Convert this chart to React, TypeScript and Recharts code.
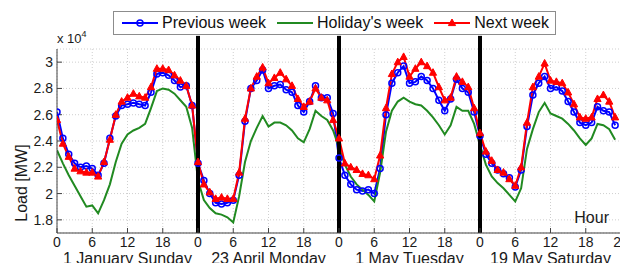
import React from 'react';
import { LineChart, Line, XAxis, YAxis, CartesianGrid, ReferenceLine, Legend } from 'recharts';

const FONT = '"Liberation Sans", Arial, Helvetica, sans-serif';
const BLUE = '#0000ff';
const GREEN = '#218a21';
const RED = '#ff0000';

const dayNames = ['1 January Sunday', '23 April Monday', '1 May Tuesday', '19 May Saturday'];
const hourTicks = [0, 6, 12, 18, 24, 30, 36, 42, 48, 54, 60, 66, 72, 78, 84, 90, 96];
const dayCentres = [12, 36, 60, 84];
const dayBounds = [24, 48, 72];
const loadTicks = [1.8, 2, 2.2, 2.4, 2.6, 2.8, 3];

// load in 10^4 MW, hourly, four days back to back
const previousWeek = [
  2.62, 2.42, 2.30, 2.23, 2.20, 2.21, 2.19, 2.14, 2.23, 2.42, 2.59, 2.67, 2.68, 2.69, 2.68, 2.67, 2.77, 2.91, 2.92, 2.90, 2.86, 2.81, 2.82, 2.67,
  2.23, 2.10, 2.00, 1.93, 1.92, 1.93, 1.95, 2.14, 2.55, 2.80, 2.86, 2.94, 2.80, 2.82, 2.83, 2.79, 2.77, 2.67, 2.62, 2.70, 2.82, 2.73, 2.73, 2.61,
  2.27, 2.14, 2.07, 2.03, 2.02, 2.03, 2.00, 2.19, 2.60, 2.84, 2.92, 2.97, 2.84, 2.85, 2.89, 2.86, 2.80, 2.71, 2.63, 2.72, 2.87, 2.80, 2.77, 2.62,
  2.44, 2.30, 2.23, 2.18, 2.15, 2.12, 2.05, 2.18, 2.51, 2.75, 2.84, 2.89, 2.80, 2.81, 2.78, 2.70, 2.62, 2.54, 2.52, 2.54, 2.66, 2.63, 2.62, 2.52,
];

const holidayWeek = [
  2.33, 2.23, 2.14, 2.06, 1.98, 1.90, 1.91, 1.85, 1.95, 2.07, 2.24, 2.38, 2.45, 2.48, 2.50, 2.53, 2.65, 2.78, 2.80, 2.79, 2.76, 2.71, 2.66, 2.50,
  2.10, 1.95, 1.89, 1.85, 1.84, 1.82, 1.78, 1.98, 2.24, 2.40, 2.50, 2.59, 2.51, 2.54, 2.54, 2.52, 2.48, 2.42, 2.39, 2.49, 2.63, 2.59, 2.56, 2.48,
  2.35, 2.22, 2.13, 2.07, 2.03, 1.99, 1.94, 2.16, 2.47, 2.63, 2.70, 2.73, 2.70, 2.68, 2.67, 2.63, 2.58, 2.52, 2.45, 2.52, 2.66, 2.63, 2.63, 2.53,
  2.37, 2.22, 2.13, 2.08, 2.04, 1.99, 1.94, 2.04, 2.34, 2.49, 2.62, 2.69, 2.61, 2.59, 2.57, 2.53, 2.48, 2.42, 2.37, 2.42, 2.53, 2.52, 2.49, 2.41,
];

const nextWeek = [
  2.56, 2.38, 2.28, 2.19, 2.17, 2.16, 2.16, 2.13, 2.24, 2.41, 2.60, 2.70, 2.73, 2.76, 2.74, 2.73, 2.81, 2.95, 2.95, 2.94, 2.90, 2.86, 2.82, 2.67,
  2.24, 2.07, 2.01, 1.96, 1.97, 1.96, 1.96, 2.16, 2.57, 2.80, 2.89, 2.96, 2.84, 2.88, 2.92, 2.87, 2.82, 2.72, 2.66, 2.70, 2.80, 2.73, 2.71, 2.56,
  2.42, 2.23, 2.20, 2.18, 2.15, 2.14, 2.11, 2.29, 2.65, 2.91, 3.00, 3.04, 2.89, 2.95, 3.00, 2.97, 2.92, 2.81, 2.71, 2.73, 2.89, 2.85, 2.81, 2.65,
  2.46, 2.32, 2.25, 2.18, 2.16, 2.11, 2.06, 2.20, 2.54, 2.81, 2.89, 2.99, 2.86, 2.85, 2.84, 2.77, 2.68, 2.58, 2.57, 2.58, 2.72, 2.75, 2.70, 2.58,
];

const data = previousWeek.map((v, i) => ({
  hour: i,
  previous: v,
  holiday: holidayWeek[i],
  next: nextWeek[i],
}));

const legendItems = [
  { name: 'Previous week', color: BLUE, marker: 'circle' },
  { name: "Holiday's week", color: GREEN, marker: 'none' },
  { name: 'Next week', color: RED, marker: 'triangle' },
];

const TriangleDot = (props: any) => {
  const { cx, cy } = props;
  if (cx == null || cy == null) return null;
  return (
    <polygon
      points={`${cx},${cy - 4} ${cx - 3.6},${cy + 2.6} ${cx + 3.6},${cy + 2.6}`}
      fill={RED}
      stroke={RED}
      strokeWidth={1}
    />
  );
};

const LegendBox = () => (
  <div
    style={{
      display: 'flex',
      alignItems: 'center',
      height: 22,
      padding: '0 6px 0 8px',
      border: '1px solid #8c8c8c',
      background: '#fff',
      fontFamily: FONT,
      fontSize: 16,
      color: '#111',
      whiteSpace: 'nowrap',
      gap: 11,
    }}
  >
    {legendItems.map((item) => (
      <div key={item.name} style={{ display: 'flex', alignItems: 'center' }}>
        <svg width={36} height={14} style={{ marginRight: 4 }}>
          <line x1={0} y1={7} x2={36} y2={7} stroke={item.color} strokeWidth={2} />
          {item.marker === 'circle' && (
            <circle cx={18} cy={7} r={3} fill="none" stroke={item.color} strokeWidth={1.5} />
          )}
          {item.marker === 'triangle' && (
            <polygon points="18,3 14.4,9.6 21.6,9.6" fill={item.color} stroke={item.color} />
          )}
        </svg>
        <span>{item.name}</span>
      </div>
    ))}
  </div>
);

const LoadLabel = (props: any) => {
  const { x, y, width } = props.viewBox;
  return (
    <g fontFamily={FONT} fill="#1a1a1a">
      <text x={x + width} y={y - 6} fontSize={13}>
        x 10
        <tspan dy={-6} fontSize={9}>4</tspan>
      </text>
      <text transform={`translate(27, ${y + 134}) rotate(-90)`} textAnchor="middle" fontSize={16}>
        Load [MW]
      </text>
    </g>
  );
};

const HourLabel = (props: any) => {
  const { x, y, width } = props.viewBox;
  return (
    <text x={x + width - 12} y={y - 10} textAnchor="end" fontSize={16} fontFamily={FONT} fill="#1a1a1a">
      Hour
    </text>
  );
};

const tickStyle = { fontSize: 14, fill: '#1a1a1a', fontFamily: FONT };

export default function App() {
  return (
    <div style={{ position: 'absolute', left: 0, top: 0, width: 620, height: 263, overflow: 'hidden', background: '#fff' }}>
      <LineChart
        width={626}
        height={263}
        data={data}
        margin={{ top: 49, right: 5, bottom: 0, left: 0 }}
        style={{ fontFamily: FONT }}
      >
        <CartesianGrid xAxisId="hour" yAxisId="left" stroke="#cfcfcf" strokeDasharray="1 2" />
        <XAxis
          xAxisId="hour"
          dataKey="hour"
          type="number"
          domain={[0, 96]}
          ticks={hourTicks}
          tickFormatter={(v: number) => (v === 96 ? '24' : String(v % 24))}
          height={18}
          tickSize={-5}
          tickMargin={9}
          tick={tickStyle}
          stroke="#444"
          interval={0}
          allowDataOverflow
          label={<HourLabel />}
        />
        <XAxis
          xAxisId="weekday"
          dataKey="hour"
          type="number"
          domain={[0, 96]}
          ticks={dayCentres}
          tickFormatter={(v: number) => dayNames[Math.floor(v / 24)]}
          height={12}
          tickSize={0}
          tickMargin={2}
          tickLine={false}
          axisLine={false}
          tick={{ ...tickStyle, fontSize: 16 }}
          interval={0}
          allowDataOverflow
        />
        <XAxis
          xAxisId="top"
          orientation="top"
          dataKey="hour"
          type="number"
          domain={[0, 96]}
          ticks={hourTicks}
          tickFormatter={() => ''}
          height={0}
          mirror
          tickSize={5}
          stroke="#444"
          interval={0}
          allowDataOverflow
        />
        <YAxis
          yAxisId="left"
          type="number"
          domain={[1.7, 3.1]}
          ticks={loadTicks}
          tickFormatter={(v: number) => String(Number(v.toFixed(1)))}
          width={57}
          tickSize={-5}
          tickMargin={9}
          tick={tickStyle}
          stroke="#444"
          interval={0}
          allowDataOverflow
          label={<LoadLabel />}
        />
        <YAxis
          yAxisId="right"
          orientation="right"
          type="number"
          domain={[1.7, 3.1]}
          ticks={loadTicks}
          tickFormatter={() => ''}
          width={0}
          mirror
          tickSize={5}
          stroke="#444"
          interval={0}
          allowDataOverflow
        />
        <Legend
          verticalAlign="middle"
          content={<LegendBox />}
          wrapperStyle={{ position: 'absolute', top: 11, left: 113, width: 'auto', height: 'auto' }}
        />
        <Line
          xAxisId="hour"
          yAxisId="left"
          dataKey="previous"
          name="Previous week"
          stroke={BLUE}
          strokeWidth={2}
          dot={{ r: 3, stroke: BLUE, strokeWidth: 1.5, fill: 'none' }}
          isAnimationActive={false}
        />
        <Line
          xAxisId="hour"
          yAxisId="left"
          dataKey="holiday"
          name="Holiday's week"
          stroke={GREEN}
          strokeWidth={2}
          dot={false}
          isAnimationActive={false}
        />
        <Line
          xAxisId="hour"
          yAxisId="left"
          dataKey="next"
          name="Next week"
          stroke={RED}
          strokeWidth={2}
          dot={<TriangleDot />}
          isAnimationActive={false}
        />
        {dayBounds.map((d) => (
          <ReferenceLine
            key={d}
            xAxisId="hour"
            yAxisId="left"
            segment={[{ x: d, y: 1.7 }, { x: d, y: 3.2 }]}
            ifOverflow="visible"
            stroke="#000"
            strokeWidth={4}
          />
        ))}
      </LineChart>
    </div>
  );
}
